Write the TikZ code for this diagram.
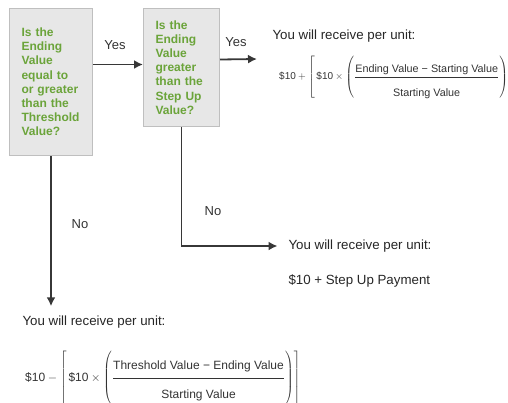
\documentclass[tikz,border=0pt]{standalone}
\usepackage{fontspec}
\setmainfont{Liberation Sans}
\usetikzlibrary{arrows.meta}
\definecolor{qgreen}{RGB}{107,164,58}
\definecolor{boxgray}{RGB}{231,231,231}
\definecolor{linegray}{RGB}{55,55,55}
\begin{document}
\begin{tikzpicture}[
    x=1pt, y=-1pt,
    question/.style={draw=gray!50, fill=boxgray, line width=1pt, anchor=north west,
        inner xsep=12pt, align=left, text=qgreen,
        font=\fontsize{12}{14.2}\selectfont\bfseries},
    branch/.style={text=black!80, font=\fontsize{13}{15}\selectfont},
    payout/.style={anchor=west, text=black!85, font=\fontsize{13.3}{15}\selectfont},
    formula/.style={anchor=base west, text=black!80, inner sep=0pt},
    flow/.style={draw=linegray, line width=1.8pt},
    >={Latex[length=9pt,width=9pt]}
]
\useasboundingbox (0,0) rectangle (508,402);

% Domande
\node[question, text width=59pt, minimum height=147pt] (q1) at (9,8)
    {Is the\\Ending\\Value\\equal to\\or greater\\than the\\Threshold\\Value?};
\node[question, text width=52pt, minimum height=118pt] (q2) at (143,8)
    {Is the\\Ending\\Value\\greater\\than the\\Step Up\\Value?};

% Risultati
\node[payout] (r1) at (269,36) {You will receive per unit:};
\node[formula, font=\fontsize{10}{12}\selectfont] (f1) at (279,79.5)
    {$\displaystyle \mbox{\$10} + \left[\,\mbox{\$10}\times\left(\frac{\mbox{\fontsize{10.8}{13}\selectfont Ending Value − Starting Value}}{\mbox{\fontsize{10.8}{13}\selectfont\rule{0pt}{18pt}Starting Value}}\right)\right]$};
\node[payout] (r2) at (285,246) {You will receive per unit:};
\node[payout] (s2) at (285,281) {\$10 + Step Up Payment};
\node[payout] (r3) at (19,322) {You will receive per unit:};
\node[formula, font=\fontsize{12}{14}\selectfont] (f3) at (25,381)
    {$\displaystyle \mbox{\$10} - \left[\,\mbox{\$10}\times\left(\rule[-25pt]{0pt}{56pt}\frac{\mbox{Threshold Value − Ending Value\rule[-7pt]{0pt}{7pt}}}{\mbox{\rule{0pt}{19pt}Starting Value}}\right)\right]$};

\coordinate (t1) at (257,59);

% Frecce
\draw[flow,->] ([yshift=3pt]q2.west -| q1.east) -- ([yshift=3pt]q2.west);
\draw[flow,->] ([yshift=8pt]q2.east) -- (t1);
\draw[flow,->, shorten >=7.5pt] (q2.south) |- (r2.west);
\draw[flow,->, shorten >=6pt] (q1.south) -- (q1.south |- r3.north);

\node[branch] (yes1) at (115,45) {Yes};
\node[branch] (yes2) at (236,42) {Yes};
\node[branch] (no1) at (80,224) {No};
\node[branch] (no2) at (213,211) {No};
\end{tikzpicture}
\end{document}
